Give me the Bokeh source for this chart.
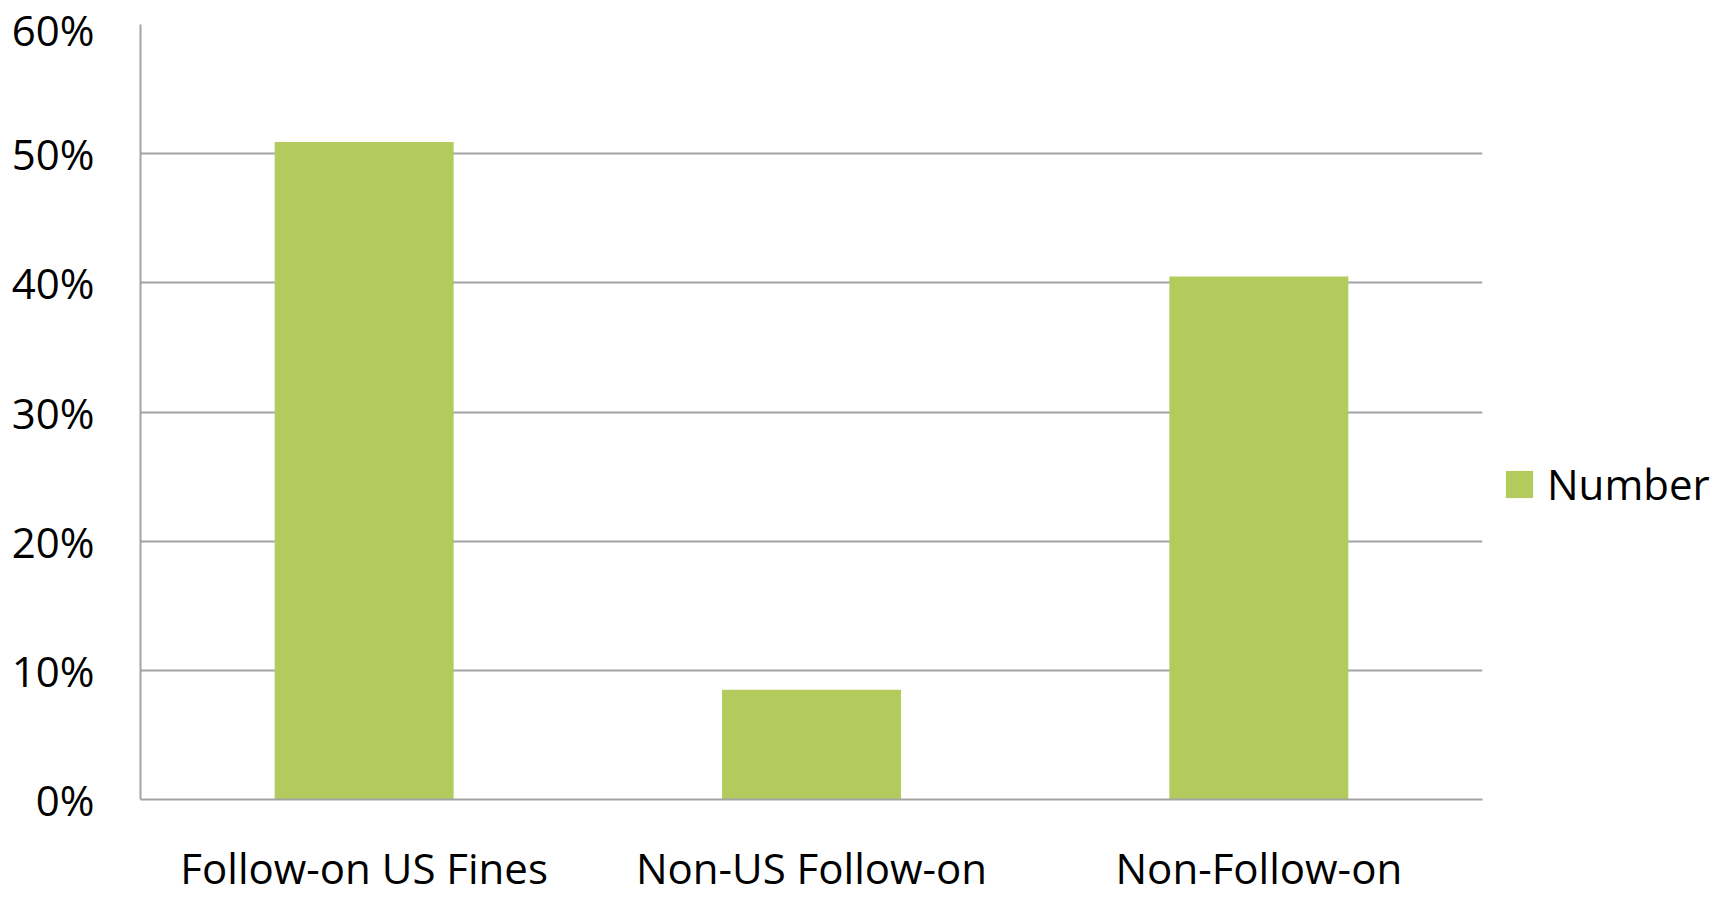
from bokeh.plotting import figure
from bokeh.models import Range1d, FactorRange, NumeralTickFormatter, FixedTicker, Legend, LegendItem, ColumnDataSource
from bokeh.embed import file_html
from bokeh.resources import INLINE

categories = ["Follow-on US Fines", "Non-US Follow-on", "Non-Follow-on"]
number_share = [0.509, 0.085, 0.405]
y_ticks = [0, 0.1, 0.2, 0.3, 0.4, 0.5, 0.6]
series_name = "Number"

FONT = "Open Sans"
GREEN = "#b3ca5c"
GRID = "#a3a3a3"

p = figure(
    x_range=FactorRange(*categories, range_padding=0),
    y_range=Range1d(0, 0.6),
    output_backend="svg", toolbar_location=None,
    min_border_left=140, min_border_right=237,
    min_border_top=24, min_border_bottom=98,
)
p.frame_width = 1342
p.frame_height = 775
p.outline_line_color = None
p.background_fill_color = "white"
p.border_fill_color = "white"

src = ColumnDataSource(dict(cat=categories, val=number_share))
r = p.vbar(x="cat", top="val", width=0.4, source=src, fill_color=GREEN, line_color=None)

p.yaxis.ticker = FixedTicker(ticks=y_ticks)
p.yaxis.formatter = NumeralTickFormatter(format="0%")
for ax in (p.xaxis[0], p.yaxis[0]):
    ax.major_tick_line_color = None
    ax.minor_tick_line_color = None
    ax.major_tick_out = 0
    ax.major_tick_in = 0
    ax.axis_line_color = GRID
    ax.axis_line_width = 2
    ax.major_label_text_font = FONT
    ax.major_label_text_font_size = "42px"
    ax.major_label_text_color = "black"
p.yaxis.major_label_standoff = 46
p.xaxis.major_label_standoff = 39

p.xgrid.grid_line_color = None
p.ygrid.ticker = FixedTicker(ticks=y_ticks)
p.ygrid.grid_line_color = GRID
p.ygrid.grid_line_width = 2

legend = Legend(
    items=[LegendItem(label=series_name, renderers=[r])],
    location=(20, 287),
    orientation="vertical",
    padding=0, margin=0, spacing=0,
    border_line_color=None, background_fill_alpha=0,
    glyph_width=34, glyph_height=34, label_standoff=11,
    label_text_font=FONT, label_text_font_size="42px", label_text_color="black",
)
p.add_layout(legend, "right")

open("out.html", "w").write(file_html(p, INLINE))
